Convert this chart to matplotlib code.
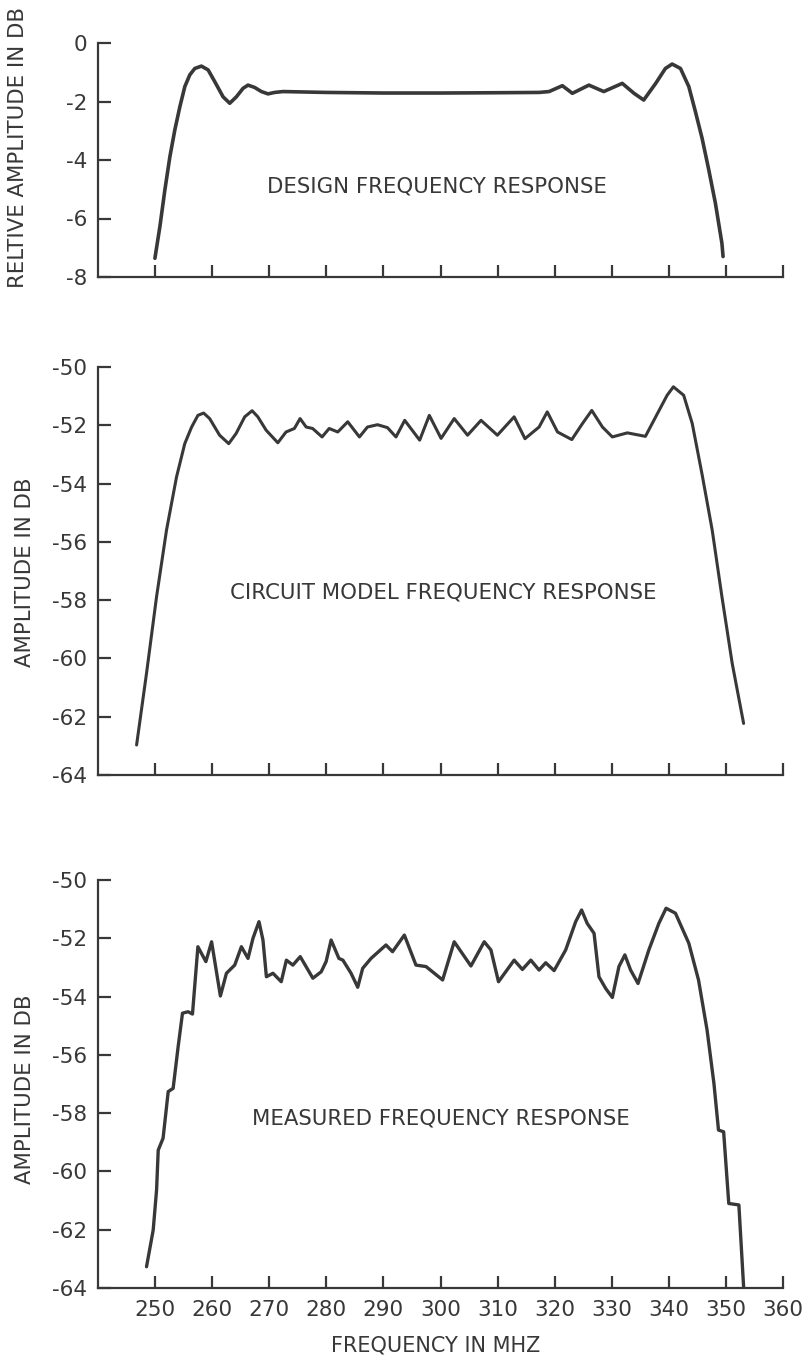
import numpy as np
import matplotlib
matplotlib.use('Agg')
import matplotlib.pyplot as plt

# design response
design_f = [249.97, 250.84, 251.71, 252.59, 253.46, 254.34, 255.21, 256.08, 256.96, 258.12,
            259.29, 260.45, 261.91, 263.08, 264.24, 265.41, 266.28, 267.45, 268.62, 269.78,
            270.94, 272.4, 280.0, 290.0, 300.0, 310.0, 317.27, 319.02, 321.35, 323.1,
            326.0, 328.6, 331.84, 333.9, 335.6, 337.7, 339.4, 340.58, 342.04, 343.5,
            344.66, 345.83, 347.0, 348.16, 349.3, 349.5]
design_db = [-7.36, -6.28, -5.03, -3.89, -2.97, -2.18, -1.49, -1.09, -0.87, -0.79,
             -0.92, -1.32, -1.84, -2.06, -1.84, -1.55, -1.44, -1.52, -1.66, -1.74,
             -1.69, -1.66, -1.69, -1.71, -1.71, -1.7, -1.69, -1.66, -1.46, -1.72,
             -1.44, -1.66, -1.38, -1.72, -1.95, -1.38, -0.87, -0.72, -0.87, -1.49,
             -2.35, -3.26, -4.34, -5.48, -6.85, -7.3]

# circuit model response
model_f = [246.76, 248.5, 250.26, 252.0, 253.76, 255.2, 256.4, 257.5, 258.5, 259.56,
           261.3, 262.9, 264.2, 265.7, 267.0, 268.0, 269.46, 271.5, 272.94, 274.4,
           275.4, 276.47, 277.6, 279.25, 280.5, 282.0, 283.75, 285.8, 287.2, 288.96,
           290.7, 292.2, 293.73, 296.35, 298.04, 300.1, 302.4, 304.74, 307.1, 309.96,
           312.9, 314.8, 317.27, 318.7, 320.5, 323.0, 324.87, 326.5, 328.37, 330.1,
           332.73, 335.9, 337.7, 339.7, 340.8, 342.6, 344.1, 345.8, 347.6, 349.3,
           351.1, 353.1]
model_db = [-62.97, -60.51, -57.88, -55.6, -53.77, -52.63, -52.06, -51.66, -51.58, -51.77,
            -52.34, -52.63, -52.28, -51.71, -51.5, -51.71, -52.17, -52.6, -52.23, -52.11,
            -51.77, -52.06, -52.11, -52.4, -52.11, -52.23, -51.88, -52.4, -52.06, -51.98,
            -52.08, -52.4, -51.83, -52.51, -51.66, -52.45, -51.77, -52.34, -51.83, -52.34,
            -51.71, -52.46, -52.06, -51.54, -52.23, -52.49, -51.94, -51.49, -52.06, -52.4,
            -52.26, -52.38, -51.71, -50.97, -50.68, -50.97, -51.94, -53.66, -55.6, -57.88,
            -60.17, -62.23]

# measured response
meas_f = [248.5, 249.67, 250.26, 250.55, 251.4, 252.3, 253.16, 254.04, 254.8, 255.79,
          256.55, 257.5, 258.9, 259.9, 261.44, 262.5, 263.95, 265.12, 266.28, 267.15,
          268.2, 268.9, 269.5, 270.65, 272.1, 273.0, 274.14, 275.43, 277.64, 279.1,
          279.96, 280.84, 282.2, 282.9, 284.33, 285.5, 286.37, 287.83, 290.45, 291.6,
          293.67, 295.7, 297.46, 300.37, 302.4, 305.33, 307.66, 308.83, 310.16, 312.9,
          314.35, 315.82, 317.27, 318.43, 319.9, 321.93, 323.68, 324.72, 325.7, 326.9,
          327.76, 328.93, 330.1, 331.26, 332.3, 333.3, 334.6, 336.5, 338.25, 339.52,
          341.16, 343.5, 345.2, 346.7, 347.9, 348.7, 349.6, 350.5, 352.27, 353.1]
meas_db = [-63.27, -62.01, -60.64, -59.27, -58.86, -57.26, -57.15, -55.72, -54.57, -54.52,
           -54.6, -52.29, -52.8, -52.12, -53.98, -53.2, -52.92, -52.29, -52.69, -52.0,
           -51.43, -52.06, -53.32, -53.2, -53.49, -52.75, -52.92, -52.63, -53.37, -53.15,
           -52.8, -52.06, -52.69, -52.75, -53.2, -53.68, -53.03, -52.69, -52.23, -52.46,
           -51.89, -52.92, -52.97, -53.43, -52.12, -52.95, -52.12, -52.4, -53.49, -52.75,
           -53.07, -52.75, -53.09, -52.84, -53.11, -52.4, -51.43, -51.03, -51.49, -51.83,
           -53.32, -53.72, -54.03, -52.97, -52.57, -53.09, -53.55, -52.4, -51.49, -50.97,
           -51.14, -52.17, -53.43, -55.15, -56.98, -58.58, -58.64, -61.1, -61.15, -63.96]

x_ticks = [250, 260, 270, 280, 290, 300, 310, 320, 330, 340, 350, 360]
ink = '#383838'

plt.rcParams['font.family'] = 'DejaVu Sans'
fig = plt.figure(figsize=(8.06, 13.61), dpi=100)

W, H = 806.0, 1361.0
def make_ax(top_px, bot_px):
    return fig.add_axes([98 / W, 1 - bot_px / H, (783 - 98) / W, (bot_px - top_px) / H])

panels = [
    (make_ax(43, 277), design_f, design_db, (-8, 0), [0, -2, -4, -6, -8],
     'DESIGN FREQUENCY RESPONSE', (299.3, -4.92), 2.6),
    (make_ax(367, 775), model_f, model_db, (-64, -50), [-50, -52, -54, -56, -58, -60, -62, -64],
     'CIRCUIT MODEL FREQUENCY RESPONSE', (300.5, -57.75), 2.2),
    (make_ax(880, 1288), meas_f, meas_db, (-64, -50), [-50, -52, -54, -56, -58, -60, -62, -64],
     'MEASURED FREQUENCY RESPONSE', (300.0, -58.17), 2.4),
]

for i, (ax, f, db, ylim, yt, title, pos, lw) in enumerate(panels):
    ax.plot(f, db, color=ink, lw=lw, solid_joinstyle='round', solid_capstyle='round')
    ax.set_xlim(240, 360)
    ax.set_ylim(*ylim)
    ax.set_xticks(x_ticks)
    ax.set_yticks(yt)
    ax.set_yticklabels([str(v) if v != 0 else '0' for v in yt])
    if i < 2:
        ax.set_xticklabels([])
    ax.spines['top'].set_visible(False)
    ax.spines['right'].set_visible(False)
    for s in ('left', 'bottom'):
        ax.spines[s].set_color(ink)
        ax.spines[s].set_linewidth(1.6)
    ax.tick_params(direction='in', length=9, width=1.6, colors=ink, labelsize=15.5, pad=8)
    ax.tick_params(axis='x', pad=9)
    ax.set_facecolor('none')
    ax.text(pos[0], pos[1], title, ha='center', va='center', fontsize=15.3, color=ink)

fig.text(18 / W, 1 - 147 / H, 'RELTIVE AMPLITUDE IN DB', rotation=90, ha='center', va='center',
         fontsize=15.3, color=ink)
fig.text(25 / W, 1 - 572 / H, 'AMPLITUDE IN DB', rotation=90, ha='center', va='center',
         fontsize=15.3, color=ink)
fig.text(25 / W, 1 - 1089 / H, 'AMPLITUDE IN DB', rotation=90, ha='center', va='center',
         fontsize=15.3, color=ink)
fig.text(436 / W, 1 - 1345 / H, 'FREQUENCY IN MHZ', ha='center', va='center',
         fontsize=15, color=ink)

fig.savefig('out.png', dpi=100, facecolor='white')
